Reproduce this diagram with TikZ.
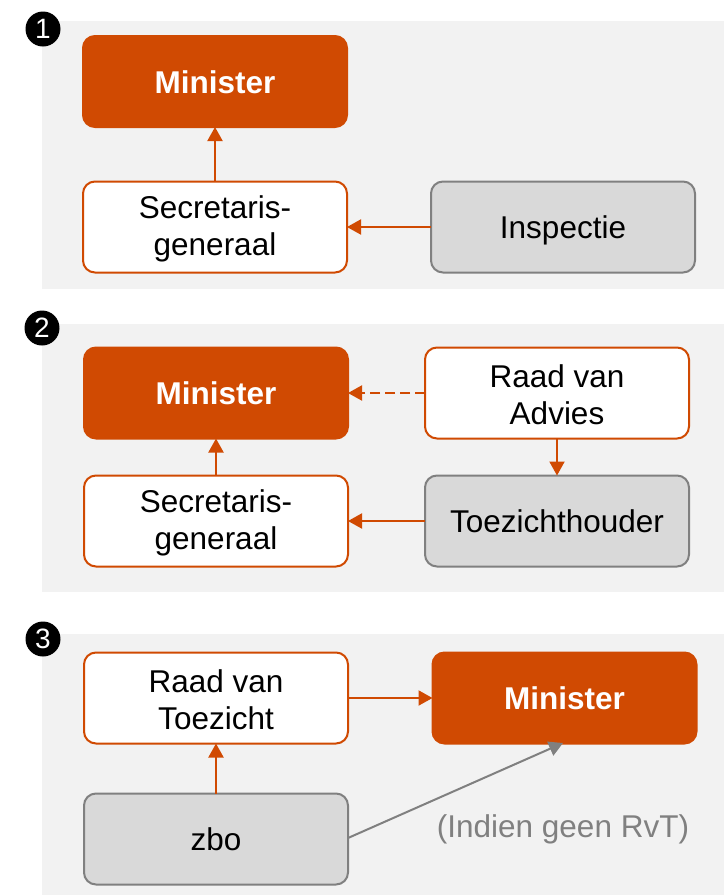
\documentclass[tikz,border=0pt]{standalone}
\usepackage{fontspec}
\setmainfont{Liberation Sans}
\usetikzlibrary{arrows.meta}
\definecolor{pwcorange}{HTML}{D04A02}
\definecolor{panelbg}{HTML}{F2F2F2}
\definecolor{boxgray}{HTML}{D9D9D9}
\definecolor{linegray}{HTML}{808080}
\newcommand\firststrut{\rule{0pt}{27pt}}
\tikzset{
  panel/.style={fill=panelbg, draw=none},
  basebox/.style={rounded corners=12pt, minimum width=264pt, minimum height=91pt, inner sep=0pt, outer sep=0pt, align=center, font=\fontsize{31.5}{37}\selectfont, line width=2pt},
  oneline/.style={text height=23.5pt, text depth=0pt},
  minbox/.style={basebox, oneline, fill=pwcorange, draw=pwcorange, text=white, font=\fontsize{31.5}{37}\selectfont\bfseries},
  whitebox/.style={basebox, fill=white, draw=pwcorange, text=black},
  graybox/.style={basebox, fill=boxgray, draw=linegray, text=black},
  conn/.style={draw=pwcorange, line width=2pt, -{Triangle[length=14pt,width=15pt]}},
  gconn/.style={draw=linegray, line width=2pt, -{Triangle[length=14pt,width=15pt]}},
  numcirc/.style={circle, fill=black, minimum size=35pt, inner sep=0pt, text=white, font=\fontsize{28}{30}\selectfont},
}
\begin{document}
\begin{tikzpicture}[x=1pt,y=-1pt]
\useasboundingbox (0,0) rectangle (728,895);
\fill[white] (0,0) rectangle (728,895);
% panels
\path[panel] (42,21) rectangle (724,289);
\path[panel] (42,324) rectangle (724,592);
\path[panel] (42,634) rectangle (724,895);
% numbers
\node[numcirc] (n1) at (43,29) {1};
\node[numcirc] (n2) at (42,328) {2};
\node[numcirc] (n3) at (43,639) {3};
% panel 1
\node[minbox] (m1) at (215,81.5) {Minister};
\node[whitebox] (sg1) at (215,227) {\firststrut Secretaris-\\generaal};
\node[graybox, oneline] (insp) at (563,227) {Inspectie};
\draw[conn] (sg1) -- (m1);
\draw[conn] (insp) -- (sg1);
% panel 2
\node[minbox] (m2) at (216,393) {Minister};
\node[whitebox] (rva) at (557,393) {\firststrut Raad van\\Advies};
\node[whitebox] (sg2) at (216,521) {\firststrut Secretaris-\\generaal};
\node[graybox, oneline] (toez) at (557,521) {Toezichthouder};
\draw[conn, dash pattern=on 10pt off 5pt] (rva) -- (m2);
\draw[conn] (rva) -- (toez);
\draw[conn] (toez) -- (sg2);
\draw[conn] (sg2) -- (m2);
% panel 3
\node[whitebox] (rvt) at (216,698) {\firststrut Raad van\\Toezicht};
\node[minbox] (m3) at (564.5,698) {Minister};
\node[graybox, oneline] (zbo) at (216,839) {zbo};
\coordinate (m3tip) at (563,743);
\draw[conn] (rvt) -- (m3);
\draw[conn] (zbo) -- (rvt);
\draw[gconn] (zbo.east) ++(0,-1) -- (m3tip);
\node[text=linegray, font=\fontsize{31.5}{37}\selectfont, anchor=base] (lbl) at (563,837) {(Indien geen RvT)};
\end{tikzpicture}
\end{document}
